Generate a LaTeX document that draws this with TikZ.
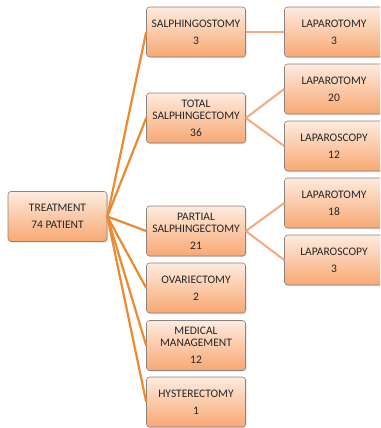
\documentclass[tikz,border=0pt]{standalone}
\usepackage{fontspec}
\setmainfont{Carlito}
\usetikzlibrary{positioning,shadows}

\definecolor{boxtop}{HTML}{FDEBDF}
\definecolor{boxbot}{HTML}{F8A872}
\definecolor{boxline}{HTML}{8A8480}
\definecolor{rootline}{HTML}{EC8A30}
\definecolor{subline}{HTML}{F4AA7E}

\begin{document}
\begin{tikzpicture}[x=1pt,y=-1pt]
\tikzstyle{box}=[rectangle, rounded corners=3pt, draw=boxline, line width=0.6pt, top color=boxtop, bottom color=boxbot, minimum width=99pt, minimum height=50pt, align=center, text=black!85, font=\fontsize{11.5}{12}\selectfont, drop shadow={shadow xshift=1pt, shadow yshift=-1pt, opacity=0.25}]
\tikzstyle{rootedge}=[draw=rootline, line width=2.2pt]
\tikzstyle{subedge}=[draw=subline, line width=2pt]
\clip (0,0) rectangle (380,428);
\node [box] (TREAT) at (57.5,216.5) {TREATMENT\\[5pt]74 PATIENT};
\node [box] (STOMY) at (196,32) {SALPHINGOSTOMY\\[5pt]3};
\node [box] (TOTAL) at (196,118) {TOTAL\\SALPHINGECTOMY\\[5pt]36};
\node [box] (PARTIAL) at (196,231) {PARTIAL\\SALPHINGECTOMY\\[5pt]21};
\node [box] (OVARY) at (196,288) {OVARIECTOMY\\[5pt]2};
\node [box] (MEDICAL) at (196,345.5) {MEDICAL\\MANAGEMENT\\[5pt]12};
\node [box] (HYSTER) at (196,402) {HYSTERECTOMY\\[5pt]1};
\node [box] (STOMYLAP) at (334,32) {LAPAROTOMY\\[5pt]3};
\node [box] (TOTALLAP) at (334,89) {LAPAROTOMY\\[5pt]20};
\node [box] (TOTALSCOPY) at (334,146) {LAPAROSCOPY\\[5pt]12};
\node [box] (PARTLAP) at (334,203) {LAPAROTOMY\\[5pt]18};
\node [box] (PARTSCOPY) at (334,260) {LAPAROSCOPY\\[5pt]3};
\path [rootedge] (TREAT.east) -- (STOMY.west);
\path [rootedge] (TREAT.east) -- (TOTAL.west);
\path [rootedge] (TREAT.east) -- (PARTIAL.west);
\path [rootedge] (TREAT.east) -- (OVARY.west);
\path [rootedge] (TREAT.east) -- (MEDICAL.west);
\path [rootedge] (TREAT.east) -- (HYSTER.west);
\path [subedge] (STOMY.east) -- (STOMYLAP.west);
\path [subedge] (TOTAL.east) -- (TOTALLAP.west);
\path [subedge] (TOTAL.east) -- (TOTALSCOPY.west);
\path [subedge] (PARTIAL.east) -- (PARTLAP.west);
\path [subedge] (PARTIAL.east) -- (PARTSCOPY.west);
\end{tikzpicture}
\end{document}
